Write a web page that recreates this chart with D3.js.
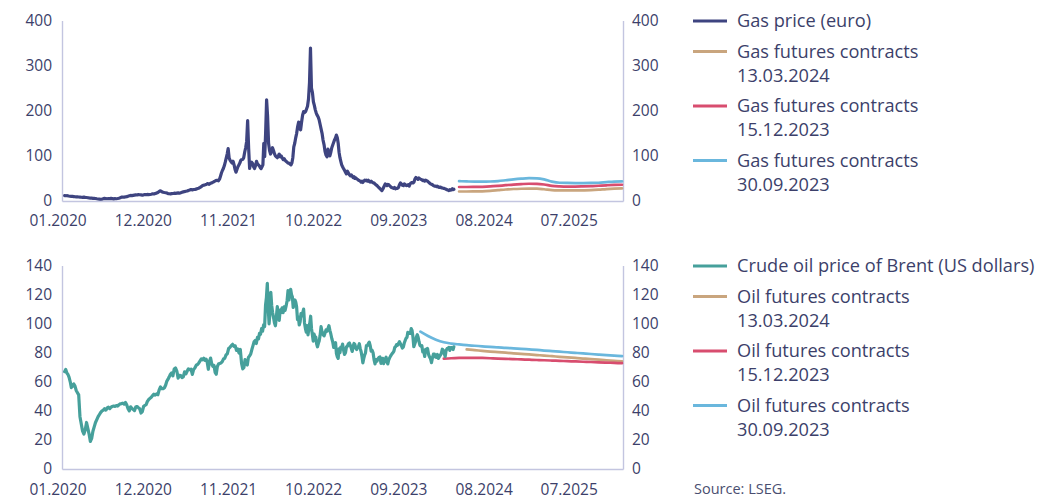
<!DOCTYPE html>
<html>
<head>
<meta charset="utf-8">
<script src="https://cdn.jsdelivr.net/npm/d3@7"></script>
<style>
  body { margin: 0; background: #ffffff; }
  svg { display: block; font-family: "Open Sans", sans-serif; }
</style>
</head>
<body>
<svg id="chart" width="1053" height="498"></svg>
<script>
// ---- Axis ticks ----
const xTickMonths = ["2020-01", "2020-12", "2021-11", "2022-10", "2023-09", "2024-08", "2025-07"];
const gasTicks = [0, 100, 200, 300, 400];
const oilTicks = [0, 20, 40, 60, 80, 100, 120, 140];

// ---- Spot prices: one row per month, Jan 2020 - Mar 2024 (values spread across the month) ----
const spotEnd = "2024-03-13";

// TTF gas price, EUR/MWh
const gasSpot = [
  [12.0, 11.6, 11.8, 11.0, 10.5, 10.1], [10.2, 9.8, 9.4, 9.1, 9.3, 8.9], [8.7, 8.3, 7.9, 8.5, 8.0, 7.8],
  [7.3, 6.8, 6.4, 6.2, 5.9, 5.7], [5.5, 4.9, 4.5, 4.2, 3.8, 4.3], [5.2, 5.7, 5.1, 5.0, 5.5, 5.3],
  [5.7, 5.3, 4.8, 5.2, 5.0, 5.5], [6.2, 7.1, 8.5, 8.9, 8.3, 9.3], [9.7, 10.7, 11.5, 12.3, 11.9, 12.5],
  [13.1, 13.7, 13.3, 14.1, 13.8, 13.5], [13.1, 13.7, 14.4, 14.0, 14.5, 14.1], [14.4, 15.1, 15.9, 15.5, 16.7, 17.4],
  [18.9, 21.2, 22.6, 20.6, 19.4, 18.8], [18.3, 17.7, 16.4, 16.1, 15.7, 16.3], [16.7, 17.3, 16.8, 17.5, 17.9, 17.4],
  [18.3, 19.4, 20.2, 20.9, 21.5, 22.1], [23.4, 24.3, 25.5, 24.7, 25.4, 25.8], [26.4, 27.7, 28.4, 30.1, 31.9, 34.4],
  [35.1, 36.0, 37.3, 38.7, 37.1, 39.3], [40.2, 41.7, 43.6, 45.1, 45.9, 44.7],
  [48.4, 55.0, 62.0, 67.5, 72.0, 78.0, 86.0, 95.0],
  [104, 116, 95, 90, 87, 84, 88, 80],
  [70, 64, 70, 76, 80, 84, 90, 92],
  [92, 96, 108, 118, 132, 178, 118, 72],
  [84, 86, 83, 76, 72, 78, 88, 82],
  [80, 78, 74, 72, 76, 80, 128, 98],
  [150, 224, 188, 128, 112, 104, 110, 118],
  [112, 105, 100, 98, 96, 100, 104, 98],
  [100, 96, 92, 94, 90, 88, 86, 84],
  [84, 82, 80, 84, 96, 120, 128, 140],
  [150, 165, 175, 160, 158, 175, 190, 198],
  [196, 198, 204, 210, 226, 262, 339, 250],
  [240, 220, 212, 202, 195, 190, 186, 180],
  [170, 160, 150, 135, 125, 110, 102, 98],
  [115, 104, 100, 108, 118, 124, 130, 136],
  [140, 146, 140, 128, 108, 96, 88, 80, 76],
  [72, 68, 64, 60, 66, 62, 58, 56],
  [58, 55, 52, 54, 50, 51, 49, 48],
  [46, 45, 44, 42, 44, 41, 44, 46, 45],
  [46, 44, 46, 43, 42, 44, 42, 40],
  [40, 38, 36, 35, 33, 31, 29, 27, 25],
  [23, 26, 30, 34, 38, 36, 34, 37, 36],
  [34, 32, 30, 29, 28, 30, 27, 28],
  [28, 30, 36, 40, 38, 35, 34, 38],
  [36, 34, 35, 36, 33, 38, 40, 41],
  [40, 42, 49, 52, 50, 48, 51, 49],
  [48, 47, 45, 46, 44, 46, 45, 44],
  [42, 40, 38, 37, 36, 34, 33, 33],
  [32, 33, 31, 30, 31, 29, 29, 28],
  [28, 27, 26, 25, 24, 23, 25, 24],
  [25, 27, 25, 26]
];

// Brent crude oil price, USD/bbl
const oilSpot = [
  [67, 68.5, 66, 65, 63, 60, 56], [57, 58.5, 57, 54, 52.5, 51], [36, 31, 26, 24, 27, 32],
  [28, 24, 19, 21, 26, 29], [32, 34, 36, 37.5, 39, 40], [40.5, 41.5, 40.5, 42, 42.5, 41.5],
  [42.5, 43, 43.3, 43.1, 43.6, 43.3], [44.2, 44.8, 45.0, 45.3, 44.6, 45.8], [44.0, 41.5, 40.0, 42.8, 41.6, 41.0],
  [40.2, 42.6, 43.0, 42.2, 41.5, 38.5], [39.5, 43.0, 43.8, 44.3, 46.5, 47.8], [48.6, 49.4, 50.5, 51.5, 50.8, 51.6],
  [51.1, 54.4, 56.4, 55.3, 55.2, 55.9], [57.8, 60.5, 61.8, 63.4, 65.2, 66.1], [64.1, 68.8, 69.5, 67.4, 62.5, 64.4],
  [64.2, 62.9, 63.4, 66.8, 65.4, 67.2], [68.9, 68.3, 68.7, 65.1, 68.5, 69.6], [71.4, 71.9, 73.0, 74.4, 75.8, 75.1],
  [76.2, 74.8, 75.6, 73.4, 68.6, 74.1, 76.3], [72.4, 70.7, 71.3, 66.5, 65.2, 70.5, 72.2],
  [72.6, 72.9, 73.9, 75.7, 76.2, 78.5], [79.3, 82.9, 83.7, 84.9, 85.8, 84.4],
  [84.7, 81.6, 82.6, 79.8, 82.2, 72.7], [68.9, 69.9, 75.2, 73.9, 71.5, 76.8, 77.8],
  [79.0, 82.0, 84.7, 87.5, 88.4, 86.3, 90.5], [89.5, 93.3, 92.7, 96.5, 94.8, 99.1, 97.9],
  [112.9, 118.1, 127.8, 111.1, 99.9, 107.0, 121.6, 112.5, 107.9],
  [104.4, 100.6, 98.5, 104.6, 111.7, 106.8, 102.3, 109.3],
  [107.6, 110.9, 107.5, 111.5, 109.1, 112.0, 115.6, 122.8],
  [116.3, 120.6, 123.6, 120.0, 118.5, 111.1, 113.1, 116.3, 114.8],
  [111.6, 102.8, 104.6, 99.1, 101.2, 106.9, 105.2, 107.6, 110.0],
  [100.5, 96.8, 94.1, 98.6, 92.3, 96.7, 100.2, 105.1, 96.5],
  [92.4, 88.0, 92.8, 90.8, 90.8, 86.2, 84.1, 86.3, 88.0],
  [91.8, 97.9, 94.3, 92.5, 91.6, 93.5, 95.7, 94.8],
  [96.7, 98.6, 95.4, 92.9, 89.8, 87.4, 83.6, 85.4],
  [86.9, 79.4, 77.2, 76.1, 82.7, 80.0, 83.9, 83.5, 85.9],
  [82.1, 78.8, 80.0, 84.0, 84.5, 86.2, 86.7, 84.9],
  [82.8, 80.9, 84.5, 86.4, 85.6, 83.0, 82.2, 83.9],
  [84.3, 86.2, 82.8, 80.8, 77.5, 73.0, 75.9, 78.3, 79.8],
  [84.9, 84.9, 86.3, 87.3, 84.8, 81.1, 81.7, 80.0],
  [75.3, 72.3, 75.3, 74.2, 75.9, 76.8, 77.1, 72.7],
  [74.3, 76.1, 72.5, 74.0, 75.7, 76.9, 73.9, 72.3, 74.9],
  [76.3, 77.5, 78.5, 79.4, 80.1, 81.1, 83.6, 84.2, 85.6],
  [85.1, 86.2, 87.6, 86.2, 84.8, 83.2, 84.0, 86.9],
  [88.6, 90.0, 90.6, 94.0, 93.7, 93.3, 93.3, 96.6, 95.3],
  [90.9, 84.1, 85.8, 87.7, 90.9, 92.4, 90.5, 87.4, 85.0],
  [84.6, 84.9, 80.5, 81.4, 77.4, 82.3, 80.6, 82.9],
  [78.9, 77.2, 75.9, 73.2, 76.6, 79.0, 79.1, 77.0],
  [76.8, 78.8, 76.1, 77.2, 78.3, 79.6, 82.4, 81.7],
  [79.3, 77.3, 81.6, 82.8, 82.9, 83.7, 81.6, 83.6],
  [83.6, 82.8, 82.2, 84.0]
];

// ---- Futures curves: monthly contracts from the given first month ----
const gasFut20240313 = { start: "2024-04", values: [21.0, 21.0, 21.2, 21.5, 22.5, 24.0, 25.5, 26.6, 27.2, 27.5, 27.3, 26.0, 24.2, 23.6, 23.4, 23.4, 23.6, 24.0, 25.0, 26.5, 27.5, 28.0] };
const gasFut20231215 = { start: "2024-04", values: [31.0, 31.0, 31.2, 31.5, 32.2, 33.5, 35.0, 36.5, 37.5, 38.2, 38.0, 36.5, 33.5, 32.4, 32.0, 32.0, 32.4, 33.0, 33.8, 34.8, 35.6, 36.0] };
const gasFut20230930 = { start: "2024-04", values: [44.0, 43.4, 43.0, 42.8, 43.2, 44.2, 46.0, 48.0, 49.5, 50.5, 50.3, 48.0, 43.0, 40.5, 40.0, 39.8, 39.8, 40.0, 40.5, 41.8, 43.0, 43.5] };

const oilFut20240313 = { start: "2024-05", values: [82.3, 81.8, 81.3, 80.8, 80.4, 80.0, 79.6, 79.2, 78.8, 78.4, 78.0, 77.6, 77.2, 76.8, 76.4, 76.0, 75.6, 75.2, 74.8, 74.4, 74.0] };
const oilFut20231215 = { start: "2024-02", values: [75.9, 76.2, 76.4, 76.5, 76.5, 76.4, 76.2, 76.0, 75.8, 75.6, 75.4, 75.2, 75.0, 74.8, 74.6, 74.4, 74.2, 74.0, 73.8, 73.6, 73.4, 73.2, 73.0, 72.8] };
const oilFut20230930 = { start: "2023-11", values: [94.5, 91.5, 89.0, 87.2, 86.3, 85.7, 85.2, 84.8, 84.4, 84.0, 83.7, 83.3, 83.0, 82.7, 82.3, 81.9, 81.5, 81.1, 80.7, 80.3, 79.9, 79.5, 79.1, 78.7, 78.3, 78.0, 77.7] };

// ---- Legend texts ----
const gasLegend = [["Gas price (euro)"], ["Gas futures contracts", "13.03.2024"], ["Gas futures contracts", "15.12.2023"], ["Gas futures contracts", "30.09.2023"]];
const oilLegend = [["Crude oil price of Brent (US dollars)"], ["Oil futures contracts", "13.03.2024"], ["Oil futures contracts", "15.12.2023"], ["Oil futures contracts", "30.09.2023"]];
const sourceNote = "Source: LSEG.";

// ---- Styles ----
const colors = { gas: "#3e4480", oil: "#46a09b", mar: "#c9a57e", dec: "#d84d6f", sep: "#6ab7dd" };
const axisColor = "#c3c5e0";
const textColor = "#3c3f6a";

const parseMonth = d3.timeParse("%Y-%m");
const parseDay = d3.timeParse("%Y-%m-%d");

// Spread each month's observations evenly over that month
function expandMonthly(rows, endDate) {
  const out = [];
  rows.forEach((vals, i) => {
    const m0 = new Date(2020, i, 1);
    const m1 = i === rows.length - 1 ? endDate : new Date(2020, i + 1, 1);
    const span = m1 - m0;
    vals.forEach((v, j) => out.push({ date: new Date(+m0 + span * (j + 0.5) / vals.length), value: v }));
  });
  return out;
}
function curve(f) {
  const s = parseMonth(f.start);
  return f.values.map((v, i) => ({ date: new Date(s.getFullYear(), s.getMonth() + i, 1), value: v }));
}

const svg = d3.select("#chart");
const x = d3.scaleTime().domain([new Date(2019, 11, 24), new Date(2026, 0, 5)]).range([62, 623]);

function panel(cfg) {
  const y = d3.scaleLinear().domain([0, cfg.max]).range([cfg.bottom, cfg.top]);
  const g = svg.append("g");

  const styleAxis = sel => {
    sel.select(".domain").attr("stroke", axisColor).attr("stroke-width", 1.4);
    sel.selectAll("text").attr("fill", textColor).style("font-size", "15.5px").style("font-family", '"Open Sans", sans-serif');
  };

  g.append("g").attr("transform", "translate(62,0)")
    .call(d3.axisLeft(y).tickValues(cfg.ticks).tickSize(0).tickSizeOuter(0).tickPadding(10))
    .call(styleAxis);
  g.append("g").attr("transform", "translate(623,0)")
    .call(d3.axisRight(y).tickValues(cfg.ticks).tickSize(0).tickSizeOuter(0).tickPadding(9))
    .call(styleAxis);
  g.append("g").attr("transform", `translate(0,${cfg.bottom})`)
    .call(d3.axisBottom(x).tickValues(xTickMonths.map(parseMonth)).tickFormat(d3.timeFormat("%m.%Y"))
      .tickSize(0).tickSizeOuter(0).tickPadding(cfg.xPad))
    .call(styleAxis)
    .call(sel => sel.selectAll("text").attr("dx", -6.5));

  const line = d3.line().x(d => x(d.date)).y(d => y(d.value));
  const smooth = d3.line().x(d => x(d.date)).y(d => y(d.value)).curve(d3.curveMonotoneX);

  cfg.futures.forEach(f => {
    g.append("path").datum(curve(f.data)).attr("d", smooth)
      .attr("fill", "none").attr("stroke", f.color).attr("stroke-width", 2.7).attr("stroke-linecap", "round");
  });
  g.append("path").datum(expandMonthly(cfg.spot, parseDay(spotEnd))).attr("d", line)
    .attr("fill", "none").attr("stroke", cfg.spotColor).attr("stroke-width", 3.2)
    .attr("stroke-linejoin", "round").attr("stroke-linecap", "round");

  // legend
  const lg = svg.append("g");
  let ly = cfg.legendTop;
  cfg.legend.forEach((lines, i) => {
    lg.append("line").attr("x1", 693).attr("x2", 727).attr("y1", ly).attr("y2", ly)
      .attr("stroke", cfg.legendColors[i]).attr("stroke-width", 3);
    lines.forEach((t, k) => {
      lg.append("text").attr("x", 737).attr("y", ly + k * 24).attr("dy", "0.35em")
        .attr("fill", textColor).style("font-size", "18.2px").text(t);
    });
    ly += lines.length * 24 + 6.5;
  });
}

panel({
  max: 400, top: 20.5, bottom: 201, ticks: gasTicks, xPad: 14,
  spot: gasSpot, spotColor: colors.gas,
  futures: [
    { data: gasFut20240313, color: colors.mar },
    { data: gasFut20231215, color: colors.dec },
    { data: gasFut20230930, color: colors.sep }
  ],
  legend: gasLegend, legendColors: [colors.gas, colors.mar, colors.dec, colors.sep], legendTop: 21
});

panel({
  max: 140, top: 265.5, bottom: 469, ticks: oilTicks, xPad: 15,
  spot: oilSpot, spotColor: colors.oil,
  futures: [
    { data: oilFut20240313, color: colors.mar },
    { data: oilFut20231215, color: colors.dec },
    { data: oilFut20230930, color: colors.sep }
  ],
  legend: oilLegend, legendColors: [colors.oil, colors.mar, colors.dec, colors.sep], legendTop: 266
});

svg.append("text").attr("x", 694).attr("y", 489).attr("dy", "0.35em")
  .attr("fill", "#4a4e70").style("font-size", "14.5px").text(sourceNote);
</script>
</body>
</html>
